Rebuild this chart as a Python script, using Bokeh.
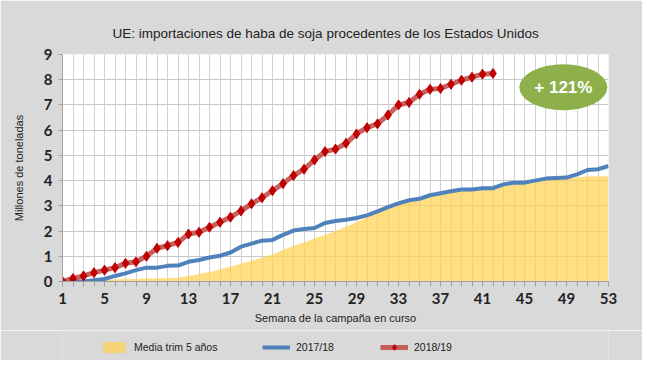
from bokeh.plotting import figure
from bokeh.layouts import column
from bokeh.models import Range1d, FixedTicker, Legend, LegendItem
from bokeh.core.properties import value
from bokeh.embed import file_html
from bokeh.resources import INLINE

# ---- data ----
weeks_all = list(range(1, 54))
weeks_1819 = list(range(1, 43))

avg_5y = [0, 0, 0, 0.02, 0.05, 0.08, 0.10, 0.10, 0.12, 0.12,
          0.13, 0.15, 0.22, 0.30, 0.38, 0.48, 0.58, 0.70, 0.82, 0.95,
          1.07, 1.25, 1.42, 1.55, 1.70, 1.85, 2.00, 2.18, 2.35, 2.55,
          2.75, 2.95, 3.10, 3.25, 3.35, 3.45, 3.50, 3.58, 3.63, 3.68,
          3.73, 3.80, 3.90, 3.95, 3.97, 4.00, 4.03, 4.06, 4.08, 4.12,
          4.17, 4.17, 4.17]

s_1718 = [0, 0, 0, 0.05, 0.10, 0.22, 0.32, 0.45, 0.55, 0.55,
          0.62, 0.63, 0.78, 0.85, 0.95, 1.02, 1.15, 1.38, 1.50, 1.62,
          1.65, 1.85, 2.02, 2.08, 2.12, 2.32, 2.40, 2.45, 2.52, 2.62,
          2.78, 2.95, 3.10, 3.22, 3.28, 3.42, 3.50, 3.58, 3.65, 3.65,
          3.70, 3.70, 3.85, 3.92, 3.92, 4.00, 4.08, 4.10, 4.12, 4.25,
          4.42, 4.45, 4.58]

s_1819 = [0, 0.12, 0.22, 0.35, 0.45, 0.55, 0.72, 0.78, 1.00, 1.32,
          1.42, 1.55, 1.88, 1.95, 2.15, 2.35, 2.55, 2.80, 3.08, 3.32,
          3.60, 3.88, 4.20, 4.45, 4.82, 5.15, 5.25, 5.48, 5.85, 6.10,
          6.25, 6.60, 7.00, 7.10, 7.42, 7.62, 7.65, 7.82, 7.98, 8.10,
          8.22, 8.25]

x_tick_labels = [1, 5, 9, 13, 17, 21, 25, 29, 33, 37, 41, 45, 49, 53]
y_tick_labels = list(range(0, 10))

series_names = ["Media trim 5 años", "2017/18", "2018/19"]
title_text = "UE: importaciones de haba de soja procedentes de los Estados Unidos"
badge_text = "+ 121%"
BADGE_X, BADGE_Y = 48.7, 7.7

FONT = "'Liberation Sans Narrow', 'Liberation Sans', Arial"
TICKFONT = "Lato"
BG = "#d9d9d9"
NAN = float("nan")

YELLOW = dict(fill_color="#ffd24d", fill_alpha=0.7)
BLUE = dict(line_color="#4f81bd", line_width=4)
RED_LINE = dict(line_color="#c0504d", line_width=5, line_alpha=0.9)
RED_PTS = dict(marker="diamond", size=10, fill_color="#c00000", line_color="#c00000")

p = figure(width=642, height=330, output_backend="svg", toolbar_location=None,
           x_range=Range1d(1, 53), y_range=Range1d(0, 9),
           min_border_left=62, min_border_right=34, min_border_top=54,
           min_border_bottom=49, title=title_text)
p.border_fill_color = BG
p.background_fill_color = "white"
p.outline_line_color = None

p.title.align = "left"
p.title.offset = 50
p.title.text_font = FONT
p.title.text_font_size = "13.5px"
p.title.text_font_style = "normal"
p.title.text_color = "#222222"
p.title.standoff = 27

# axes
xt = FixedTicker(ticks=x_tick_labels, minor_ticks=weeks_all)
p.xaxis.ticker = xt
p.xgrid.ticker = xt
p.yaxis.ticker = FixedTicker(ticks=y_tick_labels, minor_ticks=[])
for ax in (p.xaxis[0], p.yaxis[0]):
    ax.axis_line_color = "#a0a0a0"
    ax.major_tick_line_color = "#a0a0a0"
    ax.minor_tick_line_color = "#a0a0a0"
    ax.major_tick_in = 0
    ax.minor_tick_in = 0
    ax.major_label_text_font = TICKFONT
    ax.major_label_text_font_style = "bold"
    ax.major_label_text_font_size = "15px"
    ax.major_label_text_color = "#222222"
    ax.axis_label_text_font = FONT
    ax.axis_label_text_font_size = "11px"
    ax.axis_label_text_font_style = "normal"
    ax.axis_label_text_color = "#222222"
p.xaxis.major_tick_out = 5
p.xaxis.minor_tick_out = 5
p.yaxis.major_tick_out = 4
p.yaxis.minor_tick_out = 0
p.xaxis.major_label_standoff = 6
p.yaxis.major_label_standoff = 6
p.xaxis.axis_label = "Semana de la campaña en curso"
p.yaxis.axis_label = "Millones de toneladas"
p.xaxis.axis_label_standoff = 5
p.yaxis.axis_label_standoff = 16

p.xgrid.grid_line_color = "#d0d0d0"
p.xgrid.minor_grid_line_color = "#d0d0d0"
p.ygrid.grid_line_color = "#c8c8c8"

# series
p.varea(x=weeks_all, y1=[0] * len(weeks_all), y2=avg_5y, **YELLOW)
p.line(weeks_all, s_1718, **BLUE)
p.line(weeks_1819, s_1819, **RED_LINE)
p.scatter(weeks_1819, s_1819, **RED_PTS)

# badge
p.ellipse(x=[BADGE_X], y=[BADGE_Y], width=88, height=46,
          width_units="screen", height_units="screen",
          fill_color="#8db04a", line_color=None)
p.text(x=[BADGE_X], y=[BADGE_Y], text=[badge_text], text_align="center",
       text_baseline="middle", text_color="white", text_font=value("Liberation Sans"),
       text_font_style="bold", text_font_size="17px")

# legend strip (separate figure below the chart; frame aligned with chart frame)
lp = figure(width=642, height=30, output_backend="svg", toolbar_location=None,
            x_range=Range1d(0, 1), y_range=Range1d(0, 1), min_border=0)
lp.axis.visible = False
lp.grid.visible = False
lp.outline_line_color = None
lp.background_fill_color = BG
lp.border_fill_color = BG
# legend-only renderers (NaN data, nothing drawn in the strip itself)
l_avg = lp.varea(x=[0], y1=[NAN], y2=[NAN], **YELLOW)
l_blue = lp.line(x=[0], y=[NAN], **BLUE)
l_red1 = lp.line(x=[0], y=[NAN], **RED_LINE)
l_red2 = lp.scatter(x=[0], y=[NAN], **RED_PTS)

leg_items = [([l_avg], 38), ([l_blue], 200), ([l_red1, l_red2], 318)]
for (rends, lx), name in zip(leg_items, series_names):
    lg = Legend(items=[LegendItem(label=name, renderers=rends)],
                location=(lx, 6), orientation="horizontal",
                background_fill_alpha=0, border_line_alpha=0,
                padding=0, margin=0, spacing=0,
                glyph_width=28, glyph_height=14, label_height=14,
                label_standoff=6, label_text_font=FONT,
                label_text_font_size="10.5px", label_text_color="#222222")
    lp.add_layout(lg, "center")

layout = column(p, lp, spacing=0)
open("out.html", "w").write(file_html(layout, INLINE))
